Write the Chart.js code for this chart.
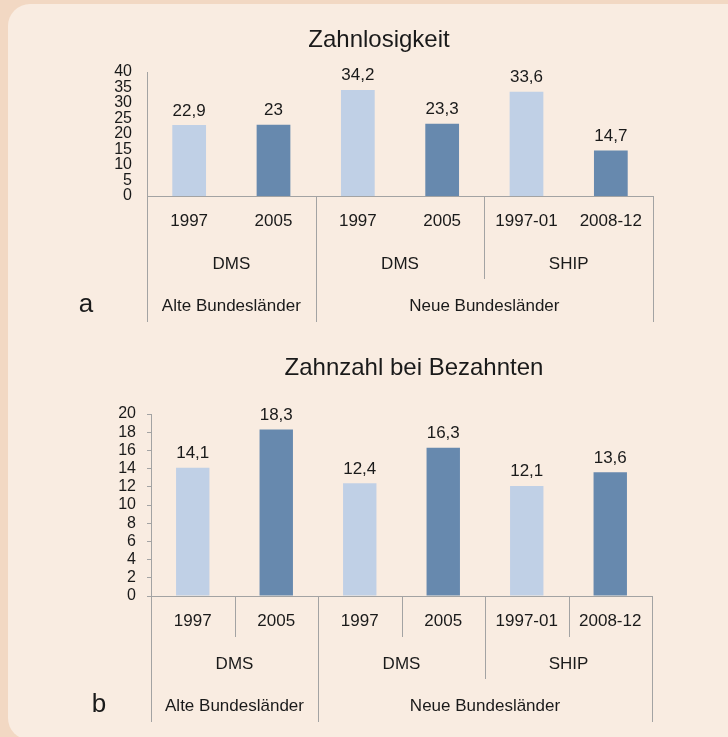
<!DOCTYPE html>
<html>
<head>
<meta charset="utf-8">
<script src="https://cdn.jsdelivr.net/npm/chart.js@4"></script>
<style>
  html, body { margin: 0; padding: 0; width: 728px; height: 737px; overflow: hidden; background: #f2d8c3; }
  .panel { position: absolute; left: 8px; top: 4px; width: 760px; height: 736px; background: #f9ece1; border-radius: 22px; }
  canvas { position: absolute; left: 0; }
  #chartA { top: 0; }
  #chartB { top: 335px; }
</style>
</head>
<body>
<div class="panel"></div>
<canvas id="chartA" width="728" height="335"></canvas>
<canvas id="chartB" width="728" height="402"></canvas>
<script>
// categories (three rows under the x axis)
const years = ['1997', '2005', '1997', '2005', '1997-01', '2008-12'];
const studies = ['DMS', 'DMS', 'SHIP'];
const studySpans = [2, 2, 2];
const regions = ['Alte Bundesländer', 'Neue Bundesländer'];
const regionSpans = [2, 4];

// values
const zahnlos = [22.9, 23, 34.2, 23.3, 33.6, 14.7];
const zahnzahl = [14.1, 18.3, 12.4, 16.3, 12.1, 13.6];

const FONT = '"Liberation Sans", Arial, sans-serif';
const TEXT = '#1a1a1a';
const LINE = '#a3a3a3';
const LIGHT = '#c0d0e6';
const DARK = '#6789ae';

Chart.defaults.font.family = FONT;
Chart.defaults.color = TEXT;

function fmt(v) {
  return String(v).replace('.', ',');
}

// title, bar values, letter and the grouped category rows under the x axis
const decorations = {
  id: 'decorations',
  afterDraw(chart, args, opts) {
    const { ctx, chartArea } = chart;
    const x = chart.scales.x;
    const base = chartArea.bottom;
    const step = x.width / years.length;
    const edge = i => Math.round(x.left + i * step) + 0.5;

    ctx.save();
    ctx.strokeStyle = LINE;
    ctx.lineWidth = 1;
    function vline(px, len) {
      ctx.beginPath();
      ctx.moveTo(px, base);
      ctx.lineTo(px, base + len);
      ctx.stroke();
    }

    if (opts.yearLines) {
      for (let i = 1; i < years.length; i++) vline(edge(i), 41);
    }

    ctx.fillStyle = TEXT;
    ctx.textAlign = 'center';
    ctx.textBaseline = 'alphabetic';
    ctx.font = '17px ' + FONT;

    let start = 0;
    vline(edge(0), 83);
    studies.forEach((s, k) => {
      const end = start + studySpans[k];
      vline(edge(end), 83);
      ctx.fillText(s, x.left + (start + end) / 2 * step, base + 72.5);
      start = end;
    });

    start = 0;
    vline(edge(0), 126);
    regions.forEach((r, k) => {
      const end = start + regionSpans[k];
      vline(edge(end), 126);
      ctx.fillText(r, x.left + (start + end) / 2 * step, base + 115);
      start = end;
    });

    // values above the bars
    const values = chart.data.datasets[0].data;
    chart.getDatasetMeta(0).data.forEach((bar, i) => {
      ctx.fillText(fmt(values[i]), bar.x, bar.y - 9.5);
    });

    ctx.font = '24px ' + FONT;
    ctx.fillText(opts.title, opts.titleX, opts.titleY);
    ctx.font = '26px ' + FONT;
    ctx.fillText(opts.letter, opts.letterX, base + 116);
    ctx.restore();
  }
};

function makeChart(id, values, cfg) {
  return new Chart(document.getElementById(id), {
    type: 'bar',
    data: {
      labels: years,
      datasets: [{
        data: values,
        backgroundColor: years.map((_, i) => (i % 2 ? DARK : LIGHT)),
        barPercentage: 0.4,
        categoryPercentage: 1
      }]
    },
    options: {
      responsive: false,
      animation: false,
      layout: { padding: cfg.padding },
      plugins: {
        legend: { display: false },
        tooltip: { enabled: false },
        decorations: cfg.deco
      },
      scales: {
        x: {
          grid: { display: false, drawTicks: false },
          border: { color: LINE },
          ticks: { font: { size: 17 }, color: TEXT, padding: 15, autoSkip: false, maxRotation: 0 },
          afterFit: s => { s.height = cfg.xHeight; }
        },
        y: {
          min: 0,
          max: cfg.max,
          grid: cfg.yGrid,
          border: { color: LINE },
          ticks: { stepSize: cfg.step, autoSkip: false, font: { size: 16 }, color: TEXT, padding: cfg.tickPad },
          afterFit: s => { s.width = cfg.yWidth; }
        }
      }
    },
    plugins: [decorations]
  });
}

makeChart('chartA', zahnlos, {
  padding: { top: 72, right: 75, left: 0, bottom: 0 },
  xHeight: 139,
  yWidth: 147,
  max: 40,
  step: 5,
  yGrid: { display: false, drawTicks: false },
  tickPad: 15,
  deco: { title: 'Zahnlosigkeit', titleX: 379, titleY: 47, letter: 'a', letterX: 86, yearLines: false }
});

makeChart('chartB', zahnzahl, {
  padding: { top: 79, right: 76, left: 0, bottom: 0 },
  xHeight: 141,
  yWidth: 151,
  max: 20,
  step: 2,
  yGrid: { display: true, drawOnChartArea: false, drawTicks: true, tickLength: 4, color: LINE },
  tickPad: 11,
  deco: { title: 'Zahnzahl bei Bezahnten', titleX: 414, titleY: 40, letter: 'b', letterX: 99, yearLines: true }
});
</script>
</body>
</html>
